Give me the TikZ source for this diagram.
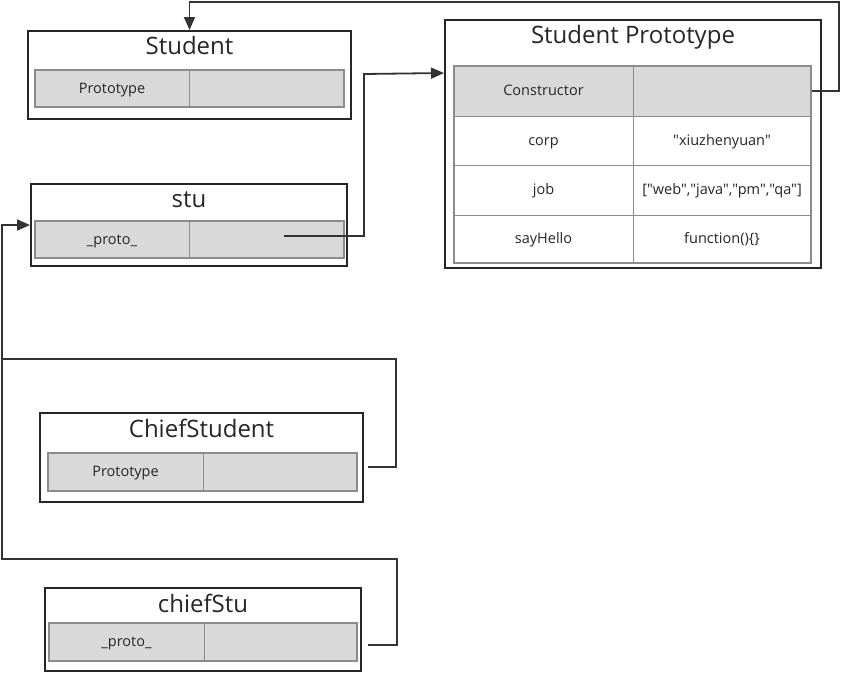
\documentclass[tikz,border=0pt]{standalone}
\usepackage{fontspec}
\setmainfont{Open Sans}
\newfontfamily\plainos{Open Sans}
\usetikzlibrary{arrows.meta}
\definecolor{dark}{HTML}{262626}
\definecolor{linec}{HTML}{333333}
\definecolor{cellfill}{HTML}{D9D9D9}
\definecolor{cellline}{HTML}{8C8C8C}
\begin{document}
\begin{tikzpicture}[x=1pt,y=-1pt,
  outerbox/.style={draw=dark,line width=2pt,fill=white,minimum width=#1,inner sep=0pt},
  ttl/.style={font=\fontsize{24}{28}\selectfont,text=dark,inner sep=0pt,text height=17pt,text depth=0pt},
  cell/.style={draw=cellline,line width=1pt,fill=cellfill,minimum height=#1,inner sep=0pt,font=\plainos\fontsize{14.5}{17}\selectfont,text=dark,text height=10pt,text depth=1pt},
  wcell/.style={cell=#1,fill=white},
  rowframe/.style={draw=cellline,line width=2pt,inner sep=0pt},
  conn/.style={draw=linec,line width=1.8pt},
  arr/.style={conn,-{Triangle[length=13pt,width=11pt]}}
]
\useasboundingbox (0,0) rectangle (842,673);

% Student
\node[outerbox=323pt,minimum height=88pt] (Student) at (189.5,75) {};
\node[ttl] (StudentT) at (189.5,46) {Student};
\node[cell=37pt,minimum width=154pt] (sk) at (112,88.5) {Prototype};
\node[cell=37pt,minimum width=155pt] (sv) at (266.5,88.5) {};
\node[rowframe,minimum width=309pt,minimum height=37pt] (srow) at (189.5,88.5) {};

% stu
\node[outerbox=316pt,minimum height=82pt] (stu) at (189,225) {};
\node[ttl] (stuT) at (189,199) {stu};
\node[cell=37pt,minimum width=154pt] (uk) at (112,239.5) {\_proto\_};
\node[cell=37pt,minimum width=155pt] (uv) at (266.5,239.5) {};
\node[rowframe,minimum width=309pt,minimum height=37pt] (urow) at (189.5,239.5) {};

% Student Prototype
\node[outerbox=376pt,minimum height=248pt] (SP) at (633,144) {};
\node[ttl] (SPT) at (633,35) {Student Prototype};
\node[cell=50pt,minimum width=179pt] (ck1) at (543.5,91) {Constructor};
\node[cell=50pt,minimum width=178pt] (cv1) at (722,91) {};
\node[wcell=49pt,minimum width=179pt] (ck2) at (543.5,140.5) {corp};
\node[wcell=49pt,minimum width=178pt] (cv2) at (722,140.5) {"xiuzhenyuan"};
\node[wcell=50pt,minimum width=179pt] (ck3) at (543.5,190) {job};
\node[wcell=50pt,minimum width=178pt] (cv3) at (722,190) {["web","java","pm","qa"]};
\node[wcell=48pt,minimum width=179pt] (ck4) at (543.5,239) {sayHello};
\node[wcell=48pt,minimum width=178pt] (cv4) at (722,239) {function()\{\}};
\node[rowframe,minimum width=357pt,minimum height=197pt] (table) at (632.5,164.5) {};

% ChiefStudent
\node[outerbox=323pt,minimum height=89pt] (CS) at (201.5,457.5) {};
\node[ttl] (CST) at (201.5,429) {ChiefStudent};
\node[cell=38pt,minimum width=155pt] (csk) at (125.5,472) {Prototype};
\node[cell=38pt,minimum width=154pt] (csv) at (280,472) {};
\node[rowframe,minimum width=309pt,minimum height=38pt] (csrow) at (202.5,472) {};

% chiefStu
\node[outerbox=316pt,minimum height=83pt] (cs) at (203,629.5) {};
\node[ttl] (csT) at (203,604) {chiefStu};
\node[cell=38pt,minimum width=155pt] (cuk) at (126.5,642) {\_proto\_};
\node[cell=38pt,minimum width=153pt] (cuv) at (280.5,642) {};
\node[rowframe,minimum width=308pt,minimum height=38pt] (curow) at (203,642) {};

% connectors
\coordinate (a1) at (839,2);
\draw[arr] (cv1.east) -| (a1) -| (Student.north);

\coordinate (b0) at (284,236);
\coordinate (b1) at (364,74);
\draw[arr] (b0) -| (b1) -- ([yshift=-54pt]SP.north west);

\coordinate (c0) at (368,467);
\coordinate (c1) at (396,359);
\coordinate (c2) at (2,359);
\draw[arr] (c0) -| (c1) -- (c2) |- (stu.west);

\coordinate (d0) at (368,645);
\coordinate (d1) at (397,559);
\coordinate (d2) at (2,559);
\draw[conn] (d0) -| (d1) -- (d2) -- (c2);
\end{tikzpicture}
\end{document}
